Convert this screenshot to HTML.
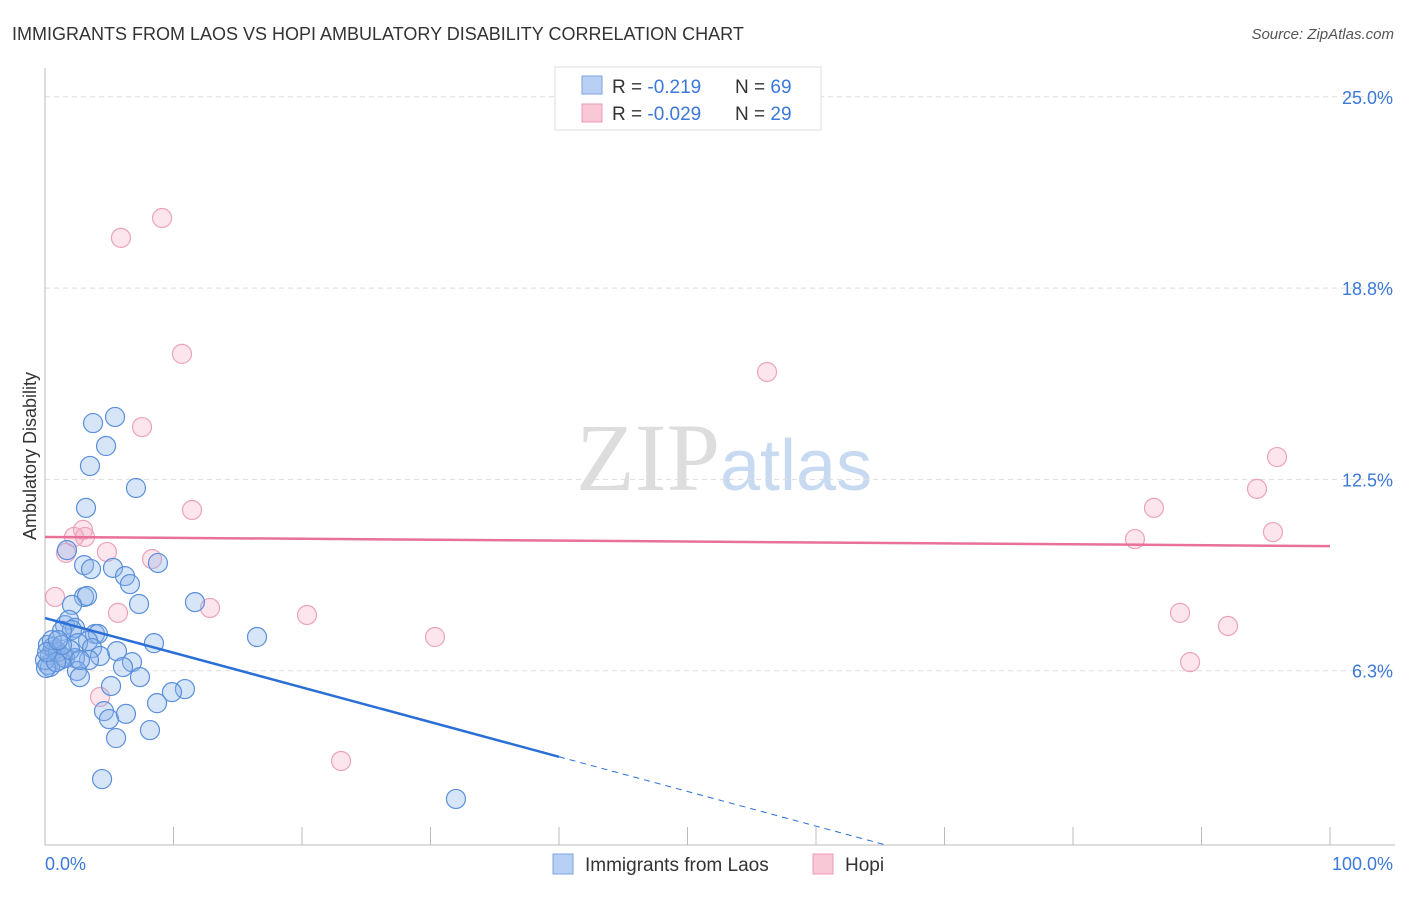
<!DOCTYPE html>
<html><head><meta charset="utf-8"><style>
body{margin:0;background:#fff;font-family:"Liberation Sans",sans-serif;}
</style></head><body>
<svg width="1406" height="892" xmlns="http://www.w3.org/2000/svg" font-family="Liberation Sans, sans-serif">
<text x="12" y="40" font-size="18" fill="#333">IMMIGRANTS FROM LAOS VS HOPI AMBULATORY DISABILITY CORRELATION CHART</text>
<text x="1394" y="39" font-size="15" fill="#555" font-style="italic" text-anchor="end">Source: ZipAtlas.com</text>
<text x="720" y="490" font-size="96" fill="#ddd" text-anchor="end" font-family="Liberation Serif, serif">ZIP</text>
<text x="720" y="490" font-size="72" fill="#c8daf2">atlas</text>
<g id="grid"></g><g id="axes"></g><g id="marks"></g>
<g>
<rect x="555" y="67" width="266" height="63" fill="#fff" stroke="#ddd"/>
<rect x="582" y="76" width="20" height="18" fill="#b8d0f4" stroke="#7aa5e0"/>
<rect x="582" y="104" width="20" height="18" fill="#f8c8d6" stroke="#ec9ab5"/>
<text x="612" y="93" font-size="19" fill="#333">R = <tspan fill="#3b78d8"> -0.219</tspan><tspan x="735">N = </tspan><tspan fill="#3b78d8">69</tspan></text>
<text x="612" y="120" font-size="19" fill="#333">R = <tspan fill="#3b78d8">-0.029</tspan><tspan x="735">N = </tspan><tspan fill="#3b78d8">29</tspan></text>
</g>
<g>
<rect x="553" y="854" width="20" height="20" fill="#b8d0f4" stroke="#7aa5e0"/>
<text x="585" y="871" font-size="19" fill="#333">Immigrants from Laos</text>
<rect x="813" y="854" width="20" height="20" fill="#f8c8d6" stroke="#ec9ab5"/>
<text x="845" y="871" font-size="19" fill="#333">Hopi</text>
</g>
<text x="36" y="456" font-size="18" fill="#333" text-anchor="middle" transform="rotate(-90 36 456)">Ambulatory Disability</text>
</svg>
<script>
const yTicks=[6.25,12.5,18.75,25];
const yTickLabels=["6.3%","12.5%","18.8%","25.0%"];
const laosX=[3.74,5.45,4.75,3.50,7.08,3.19,1.71,3.04,3.58,5.29,6.23,6.61,8.79,7.32,3.04,3.27,2.10,11.67,1.56,1.87,2.33,2.10,1.32,3.89,4.12,3.35,2.57,3.66,5.60,4.28,3.42,2.33,1.40,0.78,0.39,0.23,8.48,16.50,6.77,6.07,2.49,2.72,7.39,5.14,10.89,9.88,8.72,4.59,4.98,6.30,8.17,5.53,4.44,31.98,0.23,0.62,1.17,0.39,0,1.01,1.56,0.54,0.08,0.86,1.95,1.32,0.16,1.01,2.72];
const laosY=[14.34,14.54,13.59,12.94,12.22,11.57,10.19,9.70,9.57,9.61,9.34,9.08,9.77,8.43,8.66,8.69,8.40,8.49,7.74,7.91,7.65,7.58,7.55,7.45,7.45,7.22,7.15,6.99,6.89,6.73,6.60,6.66,6.70,6.93,6.76,6.44,7.15,7.35,6.53,6.37,6.24,6.04,6.04,5.75,5.65,5.55,5.19,4.93,4.67,4.84,4.31,4.05,2.71,2.06,7.09,7.02,6.60,6.37,6.60,6.86,6.66,7.25,6.34,6.53,6.93,7.09,6.86,7.25,6.60];
const hopiX=[9.11,5.91,10.66,56.19,7.55,11.44,95.88,94.32,86.30,95.56,84.82,2.96,2.26,3.11,4.82,1.63,8.33,0.78,5.68,12.84,20.39,30.35,88.33,92.06,89.11,4.28,23.04,0.78,1.17];
const hopiY=[21.04,20.39,16.60,16.01,14.21,11.50,13.23,12.19,11.57,10.78,10.55,10.85,10.62,10.62,10.13,10.10,9.90,8.66,8.14,8.30,8.07,7.35,8.14,7.71,6.53,5.39,3.30,6.93,6.76];
const laosTrend=[7.97,-0.1133];
const hopiTrend=[10.62,-0.003];
const NS="http://www.w3.org/2000/svg";
const sx=v=>45+v*12.85, sy=v=>862-v*30.608;
function mk(t,a,p){const e=document.createElementNS(NS,t);for(const k in a)e.setAttribute(k,a[k]);document.getElementById(p).appendChild(e);return e;}
yTicks.forEach((t,i)=>{
 const g=mk('line',{x1:45,x2:1395,y1:sy(t),y2:sy(t),stroke:'#ddd','stroke-dasharray':'5,4'},'grid');
 
 
 const l=mk('text',{x:1393,y:sy(t)+7,'font-size':18,fill:'#3b78d8','text-anchor':'end'},'axes');
 l.textContent=yTickLabels[i];
 
 
});
let a=mk('line',{x1:45,x2:45,y1:68,y2:845,stroke:'#bbb'},'axes');


a=mk('line',{x1:45,x2:1395,y1:845,y2:845,stroke:'#bbb'},'axes');


for(let i=0;i<=10;i++){const t=mk('line',{x1:sx(i*10),x2:sx(i*10),y1:827,y2:845,stroke:'#bbb'},'axes');
 
 }
[["0.0%",45,"start"],["100.0%",1393,"end"]].forEach(d=>{const t=mk('text',{x:d[1],y:870,'font-size':18,fill:'#3b78d8','text-anchor':d[2]},'axes');t.textContent=d[0];
 
 });
hopiX.forEach((x,i)=>{const c=mk('circle',{cx:sx(x),cy:sy(hopiY[i]),r:9.5,fill:'rgba(244,170,195,0.3)',stroke:'#eba3bb','stroke-width':1.2},'marks');
 
 });
laosX.forEach((x,i)=>{const c=mk('circle',{cx:sx(x),cy:sy(laosY[i]),r:9.5,fill:'rgba(140,180,235,0.35)',stroke:'#5b8fd9','stroke-width':1.2},'marks');
 
 });
const ly=x=>laosTrend[0]+laosTrend[1]*x;
let t=mk('line',{x1:sx(0),y1:sy(ly(0)),x2:sx(40),y2:sy(ly(40)),stroke:'#2a6fd6','stroke-width':2.5},'marks');


const xe=(laosTrend[0]-0.555)/-laosTrend[1];
t=mk('line',{x1:sx(40),y1:sy(ly(40)),x2:sx(xe),y2:sy(ly(xe)),stroke:'#2a6fd6','stroke-width':1,'stroke-dasharray':'6,5'},'marks');


const hy=x=>hopiTrend[0]+hopiTrend[1]*x;
t=mk('line',{x1:sx(0),y1:sy(hy(0)),x2:sx(100),y2:sy(hy(100)),stroke:'#e8709a','stroke-width':2.5},'marks');


</script>
</body></html>
